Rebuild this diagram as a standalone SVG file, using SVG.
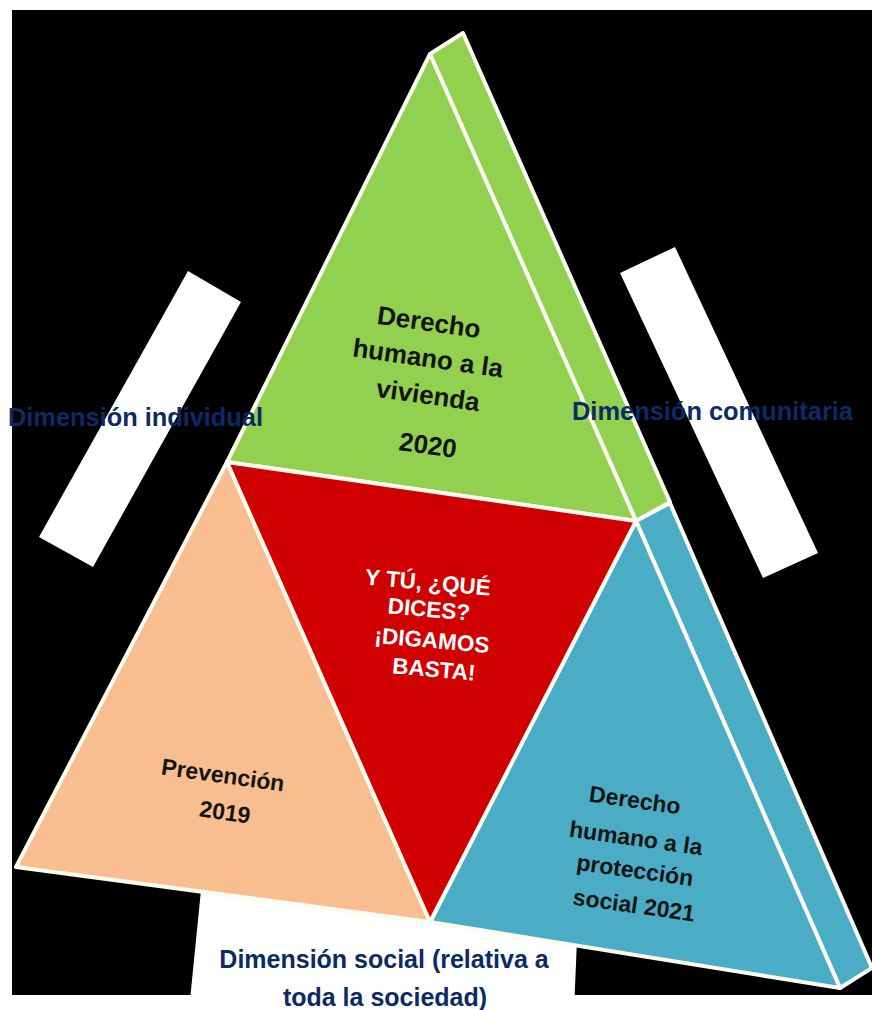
<svg xmlns="http://www.w3.org/2000/svg" width="872" height="1010" viewBox="0 0 872 1010">
<style>
.face{stroke:#fbfbf0;stroke-width:4;stroke-linejoin:round}
.g{fill:#92d050}.r{fill:#d00000}.o{fill:#f8be8f}.b{fill:#4bacc6}
.t{font-family:"Liberation Sans",Arial,sans-serif;font-weight:bold;text-anchor:middle;fill:#141414}
.w{fill:#ffffff}
.dim{font-family:"Liberation Sans",Arial,sans-serif;font-weight:bold;font-size:25px;fill:#0b2a66}
</style>
<rect x="0" y="0" width="872" height="1010" fill="#ffffff"/>
<rect x="12" y="10" width="860" height="985" fill="#000000"/>
<g id="bars">
<polygon points="188,271 241,302 93,567 39,537" fill="#ffffff"/>
<polygon points="620,273 675,247 818,553 763,578" fill="#ffffff"/>
<polygon points="203,870 580,870 574,1010 189,1010" fill="#ffffff"/>
</g>
<g id="side-green"><polygon class="face g" points="430,54 463,33 670,502 636,521"/></g>
<g id="side-blue"><polygon class="face b" points="636,521 670,503 872,968 840,988"/></g>
<g id="vivienda">
<polygon class="face g" points="430,54 227,462 636,521"/>
<text class="t" font-size="26" x="429" y="331" transform="rotate(8 429 322)">Derecho</text>
<text class="t" font-size="26" x="428" y="367" transform="rotate(8 428 358)">humano a la</text>
<text class="t" font-size="26" x="428" y="404" transform="rotate(8 428 395)">vivienda</text>
<text class="t" font-size="26" x="428" y="454" transform="rotate(8 428 445)">2020</text>
</g>
<g id="prevencion">
<polygon class="face o" points="227,462 16,867 430,922"/>
<text class="t" font-size="23" x="223" y="783" transform="rotate(8 223 775)">Prevención</text>
<text class="t" font-size="23" x="225" y="820" transform="rotate(8 225 812)">2019</text>
</g>
<g id="proteccion">
<polygon class="face b" points="636,521 430,922 840,988"/>
<text class="t" font-size="23" x="635" y="808" transform="rotate(8 635 800)">Derecho</text>
<text class="t" font-size="23" x="636" y="846" transform="rotate(8 636 838)">humano a la</text>
<text class="t" font-size="23" x="635" y="878" transform="rotate(8 635 870)">protección</text>
<text class="t" font-size="23" x="634" y="913" transform="rotate(8 634 905)">social 2021</text>
</g>
<g id="centro">
<polygon class="face r" points="227,462 636,521 430,922"/>
<text class="t w" font-size="22.5" x="428" y="590" transform="rotate(5 428 582)">Y TÚ, ¿QUÉ</text>
<text class="t w" font-size="22.5" x="429" y="617" transform="rotate(5 429 609)">DICES?</text>
<text class="t w" font-size="22.5" x="432" y="648" transform="rotate(5 432 640)">¡DIGAMOS</text>
<text class="t w" font-size="22.5" x="434" y="677" transform="rotate(5 434 669)">BASTA!</text>
</g>
<g id="connectors"></g>
<g id="label-individual"><text class="dim" x="8" y="426" textLength="255" lengthAdjust="spacingAndGlyphs">Dimensión individual</text></g>
<g id="label-comunitaria"><text class="dim" x="572" y="420" textLength="281" lengthAdjust="spacingAndGlyphs">Dimensión comunitaria</text></g>
<g id="label-social">
<text class="dim" x="384" y="968" text-anchor="middle">Dimensión social (relativa a</text>
<text class="dim" x="385" y="1006" text-anchor="middle">toda la sociedad)</text>
</g>
</svg>
